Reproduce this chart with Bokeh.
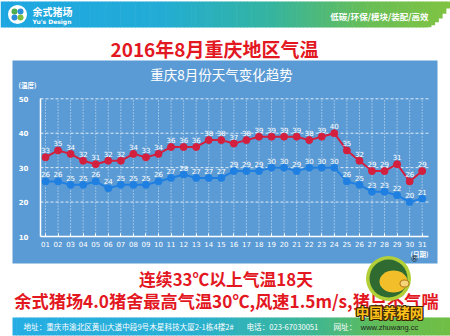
from bokeh.plotting import figure
from bokeh.models import Range1d, LinearAxis, FixedTicker
from bokeh.core.properties import value
from bokeh.embed import file_html
from bokeh.resources import INLINE

# ---------------- data ----------------
days = list(range(1, 32))
day_labels = ["%02d" % d for d in days]
high = [33, 35, 34, 32, 31, 32, 32, 34, 33, 34,
        36, 36, 36, 38, 38, 37, 38, 39, 39, 39,
        39, 38, 39, 40, 35, 32, 29, 29, 31, 26, 29]
low = [26, 26, 25, 25, 26, 24, 25, 25, 25, 26,
       27, 28, 27, 27, 27, 29, 29, 29, 30, 30,
       29, 30, 30, 30, 26, 25, 23, 23, 22, 20, 21]
y_ticks = [10, 20, 30, 40, 50]

title = "2016年8月重庆地区气温"
chart_title = "重庆8月份天气变化趋势"
y_name = "(温度)"
x_name = "(日期)"
line1 = "连续33℃以上气温18天"
line2 = "余式猪场4.0猪舍最高气温30℃,风速1.5m/s,猪只不气喘"
brand = "余式猪场"
brand_en = "Yu's Design"
slogan = "低碳/环保/模块/装配/高效"
addr = "地址：重庆市渝北区黄山大道中段9号木星科技大厦2-1栋4楼2#"
tel = "电话：023-67030051"
web = "网址："

# ---------------- layout constants (pixels) ----------------
W, H = 450, 336
X1PX, DX = 45.0, 12.557      # pixel of day 1, pixels per day
Y10PX, DY = 236.0, 3.4425    # pixel of 10 degrees, pixels per degree
AX_L, AX_R = 40.0, 428.0

def xd(px):
    return 1 + (px - X1PX) / DX

x_range = Range1d(xd(0), xd(W))
y_range = Range1d(10 - (H - Y10PX) / DY, 10 + Y10PX / DY)

p = figure(width=W, height=H, x_range=x_range, y_range=y_range,
           x_axis_type=None, y_axis_type=None, toolbar_location=None,
           output_backend="svg", min_border=0)
p.extra_x_ranges = {"px": Range1d(0, W)}
p.extra_y_ranges = {"px": Range1d(H, 0)}
p.outline_line_color = None
p.background_fill_color = "white"
p.border_fill_color = "white"
PX = dict(x_range_name="px", y_range_name="px")
CJK = value("Noto Sans CJK SC")

def mix(stops, t):
    for (t0, c0), (t1, c1) in zip(stops[:-1], stops[1:]):
        if t0 <= t <= t1:
            f = (t - t0) / (t1 - t0) if t1 > t0 else 0
            c = [round(a + (b - a) * f) for a, b in zip(c0, c1)]
            return "#%02x%02x%02x" % tuple(c)
    return "#%02x%02x%02x" % tuple(stops[-1][1])

def band(x0, x1, y0, y1, stops, n, curve=False):
    L, R, T, B, C = [], [], [], [], []
    w = (x1 - x0) / n
    for i in range(n):
        a = x0 + i * w
        b = a + w + 0.6
        bot = y1
        if curve and a > x1 - 24:
            f = (a - (x1 - 24)) / 24
            bot = y1 - (y1 - y0 - 1) * f ** 1.6
        L.append(a); R.append(b); T.append(y0); B.append(bot)
        C.append(mix(stops, (i + 0.5) / n))
    p.quad(left=L, right=R, top=T, bottom=B, fill_color=C, line_color=None, **PX)

head_stops = [(0, (30, 166, 226)), (0.35, (34, 172, 214)), (0.6, (52, 180, 160)),
              (0.82, (105, 190, 85)), (1, (128, 195, 66))]
band(0, 449, 1, 27, head_stops, 120, curve=True)
foot_stops = [(0, (38, 174, 228)), (0.4, (40, 176, 212)), (0.68, (60, 182, 150)),
              (0.85, (100, 189, 82)), (1, (112, 190, 70))]
band(12, 449, 317, 335, foot_stops, 120)

# logo
p.circle(x=[17], y=[14], radius=9.5, fill_color="white", line_color=None, **PX)
p.circle(x=[14, 20, 14, 20], y=[11, 11, 17, 17], radius=3,
         fill_color=["#4cae4f", "#2a8fd8", "#2a8fd8", "#7cbf3f"], line_color=None, **PX)

def txt(x, y, s, size, color="white", bold=False, align="left", font=CJK, alpha=1.0):
    p.text(x=[x], y=[y], text=[s], text_font=font, text_font_size="%spx" % size,
           text_font_style="bold" if bold else "normal", text_color=color,
           text_align=align, text_baseline="middle", text_alpha=alpha, **PX)

txt(32, 10.5, brand, 10, bold=True)
txt(32, 20.5, brand_en, 6, bold=True, font=value("DejaVu Sans"))
txt(428, 15.5, slogan, 8.5, bold=True, align="right")

txt(214, 48, title, 19, color="#e3171f", bold=True, align="center")

# chart panel
p.quad(left=[12], right=[437], top=[60], bottom=[263], fill_color="#5b9bd5",
       line_color=None, **PX)
txt(221, 73, chart_title, 13.5, align="center")
txt(18, 84.5, y_name, 6.5, bold=True)
txt(428, 253.5, x_name, 6.5, bold=True, align="right")

# grid
p.segment(x0=days, y0=[y_ticks[0]] * len(days), x1=days, y1=[y_ticks[-1]] * len(days),
          line_color="white", line_alpha=0.75, line_width=1, line_dash="1 2")
p.segment(x0=[xd(AX_L)] * (len(y_ticks) - 1), y0=y_ticks[1:],
          x1=[xd(AX_R)] * (len(y_ticks) - 1), y1=y_ticks[1:],
          line_color="white", line_alpha=0.8, line_width=1, line_dash="3 2")

RED, BLUE = "#d3203e", "#1f80e2"
p.line(days, high, line_color=RED, line_width=2)
p.scatter(days, high, size=7, fill_color=RED, line_color=RED)
p.line(days, low, line_color=BLUE, line_width=2)
p.scatter(days, low, size=7, fill_color=BLUE, line_color=BLUE)

lab = dict(text_align="center", text_baseline="middle", text_color="white",
           text_font_size="7px", text_font=value("DejaVu Sans"), y_offset=-7)
p.text(x=days, y=high, text=[str(v) for v in high], **lab)
p.text(x=days, y=low, text=[str(v) for v in low], **lab)

# axes
xaxis = LinearAxis(ticker=FixedTicker(ticks=days),
                   major_label_overrides={d: l for d, l in zip(days, day_labels)},
                   fixed_location=y_ticks[0], bounds=(xd(AX_L), xd(AX_R)))
xaxis.axis_line_color = "white"
xaxis.axis_line_width = 1.5
xaxis.major_tick_line_color = "white"
xaxis.major_tick_in = 3
xaxis.major_tick_out = 0
xaxis.minor_tick_line_color = None
xaxis.major_label_text_color = "white"
xaxis.major_label_text_font_size = "7px"
xaxis.major_label_text_font = "DejaVu Sans"
xaxis.major_label_standoff = 4
p.add_layout(xaxis, "below")

yaxis = LinearAxis(ticker=FixedTicker(ticks=y_ticks), fixed_location=xd(AX_L),
                   bounds=(y_ticks[0], y_ticks[-1]))
yaxis.axis_line_color = "white"
yaxis.axis_line_width = 1.5
yaxis.major_tick_line_color = None
yaxis.minor_tick_line_color = None
yaxis.major_label_text_color = "white"
yaxis.major_label_text_font_size = "7px"
yaxis.major_label_text_font_style = "bold"
yaxis.major_label_text_font = "DejaVu Sans"
yaxis.major_label_standoff = 6
p.add_layout(yaxis, "left")

# bottom texts
txt(225.5, 278.5, line1, 16.8, color="#e3171f", bold=True, align="center")
txt(226, 300, line2, 17.2, color="#e3171f", bold=True, align="center")
txt(23, 326, addr, 7.6)
txt(246, 326, tel, 7.6)
txt(333, 326, web, 7.6)

# watermark
p.circle(x=[388], y=[278], radius=22.5, fill_color="#b3cf38", line_color=None, **PX)
p.circle(x=[388], y=[278], radius=19, fill_color="#2f6b31", line_color=None, **PX)
p.ellipse(x=[393], y=[281], width=28, height=22, fill_color="#f2bf2a", line_color=None, **PX)
p.ellipse(x=[404], y=[283], width=9, height=7, fill_color="#f6d57a", line_color="#a86d10", **PX)
txt(410, 259, "®", 8, color="#222222", font=value("DejaVu Sans"))
for dx_, dy_ in [(-1, 0), (1, 0), (0, -1), (0, 1), (-1, -1), (1, 1), (1, -1), (-1, 1)]:
    txt(389 + dx_, 311.5 + dy_, "中国养猪网", 13.5, color="#3b2606", bold=True, align="center")
txt(389, 311.5, "中国养猪网", 13.5, color="#ffc21a", bold=True, align="center")
txt(389, 327, "www.zhuwang.cc", 7.5, color="#1e1e1e", align="center",
    font=value("Liberation Sans"))

open("out.html", "w").write(file_html(p, INLINE))
